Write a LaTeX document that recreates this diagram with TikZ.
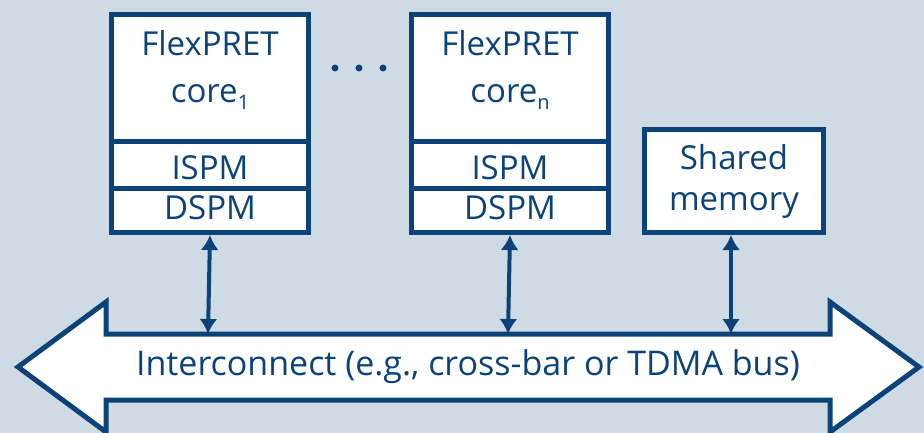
\documentclass[tikz,border=0pt]{standalone}
\usepackage{fontspec}
\setmainfont{Open Sans}
\usetikzlibrary{arrows.meta}
\definecolor{bgc}{HTML}{CFDBE4}
\definecolor{navy}{HTML}{0B4278}
\newcommand{\lowsub}[1]{\raisebox{-7pt}{\fontsize{20}{20}\selectfont #1}}
\newcommand{\shiftink}[2]{\raisebox{#1}[\height][\depth]{#2}}
\begin{document}
\begin{tikzpicture}[x=1pt,y=-1pt,
  part/.style={draw=navy,fill=white,line width=5pt,inner sep=0pt,text=navy,
    font=\fontsize{33}{47}\selectfont,align=center,anchor=north west},
  link/.style={draw=navy,line width=4pt,
    {Latex[length=15pt,width=18pt]}-{Latex[length=15pt,width=18pt]}},
  dot/.style={circle,fill=navy,inner sep=0pt,minimum size=7pt}]
\fill[bgc] (0,0) rectangle (924,433);
\useasboundingbox (0,0) rectangle (924,433);
% bus
\filldraw[draw=navy,fill=white,line width=5pt,line join=miter]
  (18,367) -- (106,302) -- (106,334) -- (830,334) -- (830,302) -- (919,367)
  -- (830,432) -- (830,400) -- (106,400) -- (106,432) -- cycle;
\node[text=navy,font=\fontsize{34}{40}\selectfont] (bus) at (468,367)
  {Interconnect (e.g., cross-bar or TDMA bus)};
\coordinate (b1) at (208,334);
\coordinate (b2) at (508,334);
\coordinate (b3) at (731,334);
% core 1
\node[part,minimum width=197,minimum height=127] (c1) at (109,12)
  {\shiftink{8pt}{\parbox{190pt}{\centering FlexPRET\\core\lowsub{1}}}};
\node[part,minimum width=197,minimum height=47] (i1) at (109,139) {\shiftink{-3pt}{ISPM}};
\node[part,minimum width=197,minimum height=44] (d1) at (109,186) {\shiftink{3pt}{DSPM}};
% core n
\node[part,minimum width=197,minimum height=127] (c2) at (409,12)
  {\shiftink{8pt}{\parbox{190pt}{\centering FlexPRET\\core\lowsub{n}}}};
\node[part,minimum width=197,minimum height=47] (i2) at (409,139) {\shiftink{-3pt}{ISPM}};
\node[part,minimum width=197,minimum height=44] (d2) at (409,186) {\shiftink{3pt}{DSPM}};
% shared memory
\node[part,minimum width=179,minimum height=103,font=\fontsize{33}{41}\selectfont] (sm) at (642,127)
  {Shared\\memory};
% dots
\node[dot] (p1) at (335,68) {};
\node[dot] (p2) at (359,68) {};
\node[dot] (p3) at (383,68) {};
% links
\draw[link] (d1.south) -- (b1);
\draw[link] (d2.south) -- (b2);
\draw[link] (sm.south -| b3) -- (b3);
\end{tikzpicture}
\end{document}
